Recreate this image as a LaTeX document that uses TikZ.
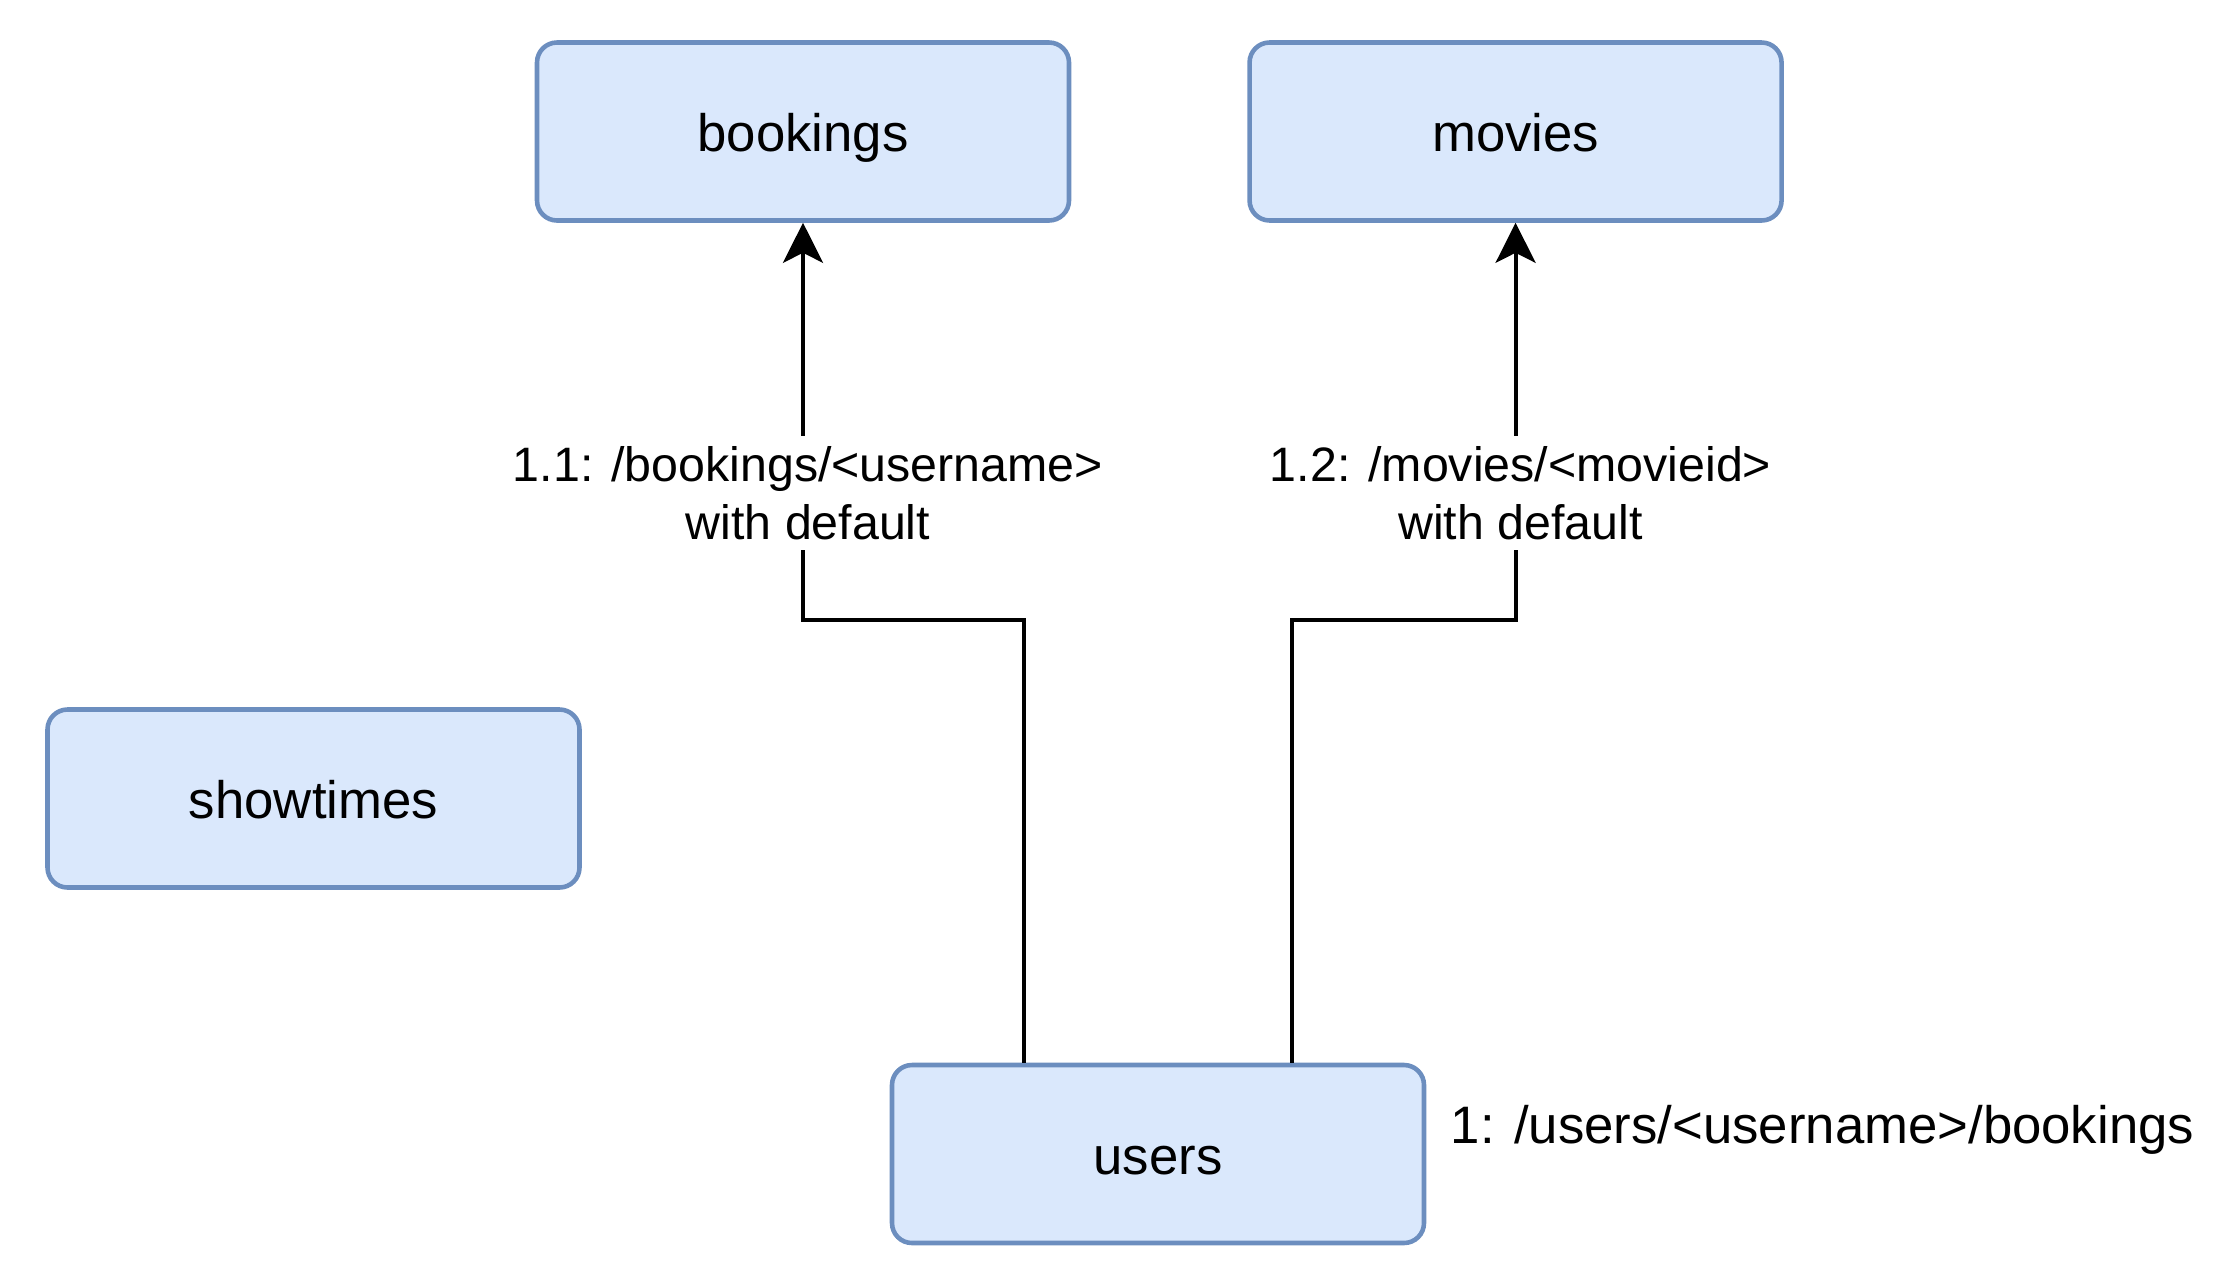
\documentclass[tikz,border=0pt]{standalone}
\usepackage{fontspec}
\setmainfont{Liberation Sans}
\usepackage{tikz}
\usetikzlibrary{arrows.meta,
                calc,
                positioning}
\definecolor{svcfill}{HTML}{DAE8FC}
\definecolor{svcline}{HTML}{6C8EBF}

\begin{document}
\begin{tikzpicture}[
		svc/.style={draw=svcline, fill=svcfill, line width=1.3pt, rounded corners=0.2cm,
			minimum width=5.32cm, minimum height=1.78cm, inner sep=0pt,
			text height=13pt, text depth=1.6pt,
			font=\fontsize{15}{18}\selectfont},
		call/.style={-{Stealth[length=4mm, width=4mm, inset=1mm]}, line width=1.1pt},
		calllabel/.style={fill=white, align=center, inner xsep=2pt, inner ysep=0.1cm,
			xshift=0.05cm, font=\fontsize{13.75}{16.5}\selectfont}
	]
		\useasboundingbox (0,0) rectangle (22.2,-12.78);
		\node [svc] (bookings) at (8.03,-1.315) {bookings};
		\node [svc, right=1.76cm of bookings] (movies) {movies};
		\node [svc] (showtimes) at (3.135,-7.985) {showtimes};
		\node [svc] (users) at (11.58,-11.54) {users};
		\node [anchor=base west, inner sep=0pt, font=\fontsize{15}{18}\selectfont]
			(ulabel) at (14.50,-11.43) {1: /users/<username>/bookings};

		\coordinate (ub) at ($(users.north west)!0.25!(users.north east)$);
		\coordinate (um) at ($(users.north west)!0.75!(users.north east)$);
		\coordinate (bend) at (0,-6.20);
		\draw [call] (ub) -- (ub |- bend) -| node [calllabel, pos=0.66]
			{1.1: /bookings/<username>\\with default} (bookings.south);
		\draw [call] (um) -- (um |- bend) -| node [calllabel, pos=0.66]
			{1.2: /movies/<movieid>\\with default} (movies.south);
	\end{tikzpicture}
\end{document}
